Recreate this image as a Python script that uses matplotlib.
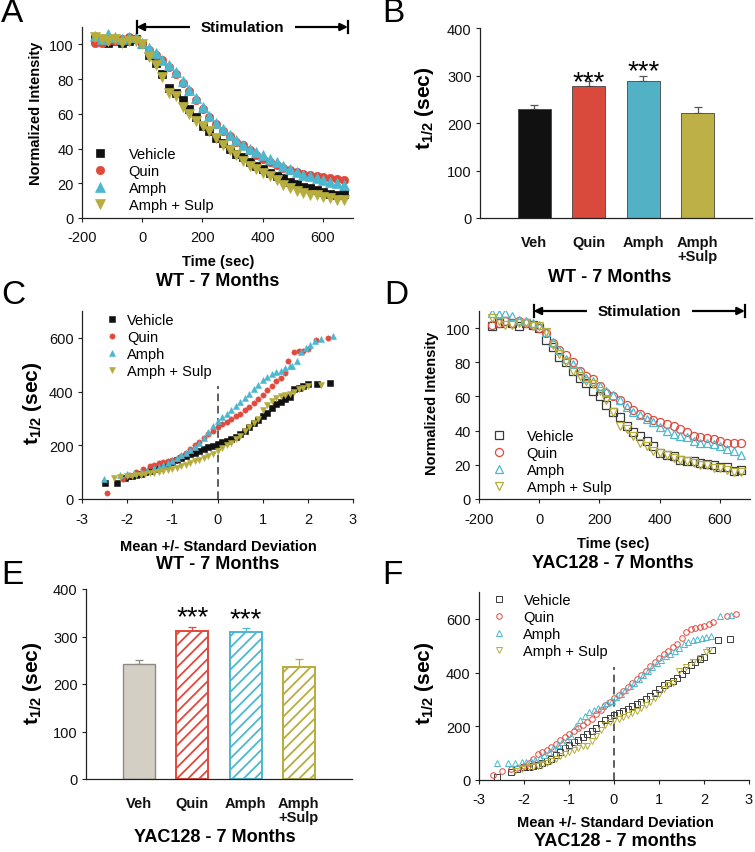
import matplotlib
matplotlib.use('Agg')
import matplotlib.pyplot as plt

plt.rcParams['font.family'] = ['Liberation Sans', 'DejaVu Sans']
plt.rcParams['mathtext.fontset'] = 'custom'
plt.rcParams['mathtext.rm'] = 'Liberation Sans'
plt.rcParams['mathtext.bf'] = 'Liberation Sans:bold'
plt.rcParams['mathtext.it'] = 'Liberation Sans:italic'
plt.rcParams['hatch.linewidth'] = 1.3
plt.rcParams['axes.unicode_minus'] = False

# ---------------- data ----------------
series_names = ['Vehicle', 'Quin', 'Amph', 'Amph + Sulp']
bar_labels = ['Veh', 'Quin', 'Amph', 'Amph\n+Sulp']

time_sec = [-156, -134, -112, -89, -67, -45, -22, 0, 22, 45, 67, 89, 112, 134, 156, 178,
            201, 223, 245, 268, 290, 312, 335, 357, 379, 401, 424, 446, 468, 491, 513,
            535, 557, 580, 602, 624, 647, 669]

wt_vehicle = [103, 102, 101, 102, 101, 102, 103, 100, 94, 89, 83, 75, 72, 68, 63, 58, 53, 50, 46, 43,
              40, 37, 35, 32, 30, 28, 26, 24, 23, 21, 19.5, 18, 17, 16, 15, 14, 13, 14]
wt_quin = [101, 101, 102, 102, 103, 104, 103, 100, 97, 94, 91, 87, 83, 78, 73, 68, 63, 58, 54, 50,
           47, 44, 42, 39, 36, 34, 32, 30.5, 29, 27.5, 26.5, 25.5, 25, 24, 23.5, 23, 22.5, 22]
wt_amph = [105, 103, 106, 104, 103, 104, 104, 101, 98, 95, 91, 88, 84, 79, 74, 69, 64, 59, 55, 51,
           48, 45, 42, 40, 38, 36, 34, 32, 30, 28, 26.5, 25, 24, 23, 22, 21, 20, 19]
wt_amph_sulp = [104, 103, 102, 103, 101, 102, 102, 100, 93, 88, 81, 72, 70, 64, 60, 56, 53, 50, 46, 42,
                39, 36, 33, 30, 28, 26, 24, 22, 19, 17, 15.5, 14.5, 13.5, 13, 12, 11.5, 10.5, 10.5]

yac_vehicle = [101, 103, 104, 103, 101, 103, 102, 100, 93, 89, 83, 80, 75, 71, 68, 63, 60, 55, 51, 48,
               43, 39, 37, 34, 31, 27, 26, 25, 23, 22.5, 22, 21, 20.5, 20, 19, 18.5, 16.5, 17]
yac_quin = [102, 103, 104, 103, 104, 103, 102, 100, 97, 91, 87, 84, 80, 75, 72, 70, 66, 62, 60, 58,
            55, 52, 50, 48, 46, 45, 44, 43, 41, 39, 37, 36, 35.5, 35, 34, 33, 33, 33]
yac_amph = [109, 108, 109, 107, 105, 104, 103, 102, 98, 92, 87, 82, 79, 75, 71, 69, 66, 63, 61, 58,
            54, 51, 49, 47, 45, 42, 40, 38, 37, 36, 34, 33, 33, 32, 31, 29, 28, 26]
yac_amph_sulp = [106, 104, 102, 102, 103, 103, 101, 101, 98, 90, 85, 80, 75, 72, 69, 67, 63, 58, 51, 43,
                 41, 37, 33, 31, 28, 27, 26, 24, 23, 22, 21, 20, 20, 18, 18, 17, 16, 16]

wt_t_half = [230, 277, 289, 222]
wt_t_half_err = [8, 11, 10, 12]
yac_t_half = [243, 312, 309, 236]
yac_t_half_err = [8, 9, 9, 16]
stars = ['', '***', '***', '']
wt_star_y = [0, 272, 295, 0]      # baseline of significance marks (sec)
yac_star_y = [0, 325, 322, 0]

# Q-Q style (z score vs t1/2) - WT
wt_qq_vehicle_z = [-2.48, -2.22, -2.05, -1.97, -1.9, -1.8, -1.7, -1.6, -1.5, -1.4, -1.3, -1.2, -1.1, -1.0,
                   -0.9, -0.8, -0.7, -0.6, -0.5, -0.4, -0.3, -0.2, -0.1, 0.0, 0.1, 0.2, 0.3, 0.4, 0.5,
                   0.6, 0.7, 0.8, 0.9, 1.0, 1.1, 1.2, 1.3, 1.4, 1.5, 1.6, 1.7, 1.8, 1.9, 2.0, 2.2, 2.48]
wt_qq_vehicle_t = [59, 59, 80, 84, 87, 90, 94, 99, 104, 110, 117, 124, 132, 139, 146, 153, 160, 166, 172,
                   178, 185, 192, 198, 206, 212, 217, 222, 230, 242, 255, 268, 282, 295, 308, 322, 338,
                   352, 362, 372, 380, 408, 414, 420, 428, 428, 432]
wt_qq_quin_z = [-2.45, -2.1, -1.95, -1.8, -1.65, -1.5, -1.4, -1.3, -1.2, -1.1, -1.0, -0.9, -0.8, -0.7,
                -0.6, -0.5, -0.4, -0.3, -0.2, -0.1, 0.0, 0.1, 0.2, 0.3, 0.4, 0.5, 0.6, 0.7, 0.8, 0.9,
                1.0, 1.1, 1.2, 1.3, 1.4, 1.5, 1.56, 1.7, 1.8, 1.9, 2.0, 2.17, 2.45]
wt_qq_quin_t = [22, 75, 88, 100, 112, 122, 128, 134, 138, 142, 146, 150, 160, 172, 186, 200, 214, 228,
                242, 255, 267, 278, 288, 298, 308, 318, 330, 342, 356, 372, 388, 405, 422, 438, 452,
                468, 513, 548, 550, 552, 558, 591, 601]
wt_qq_amph_z = [-2.52, -2.15, -2.0, -1.85, -1.7, -1.55, -1.4, -1.3, -1.2, -1.1, -1.0, -0.9, -0.8, -0.7,
                -0.6, -0.5, -0.4, -0.3, -0.2, -0.1, 0.0, 0.1, 0.2, 0.3, 0.4, 0.5, 0.6, 0.7, 0.8, 0.9,
                1.0, 1.1, 1.2, 1.3, 1.4, 1.5, 1.6, 1.65, 1.75, 1.85, 1.95, 2.05, 2.15, 2.3, 2.55]
wt_qq_amph_t = [75, 88, 92, 97, 102, 108, 114, 120, 126, 133, 142, 152, 162, 172, 182, 195, 210, 228,
                250, 272, 292, 305, 318, 330, 345, 360, 375, 392, 408, 425, 442, 455, 465, 472, 478,
                488, 495, 495, 512, 548, 562, 575, 588, 595, 608]
wt_qq_amph_sulp_z = [-2.3, -2.15, -2.0, -1.9, -1.8, -1.7, -1.6, -1.5, -1.4, -1.3, -1.2, -1.1, -1.0, -0.9,
                     -0.8, -0.7, -0.6, -0.5, -0.4, -0.3, -0.2, -0.1, 0.0, 0.1, 0.2, 0.3, 0.4, 0.5, 0.6,
                     0.7, 0.8, 0.9, 1.0, 1.1, 1.2, 1.3, 1.4, 1.5, 1.6, 1.7, 1.8, 1.9, 2.0, 2.3]
wt_qq_amph_sulp_t = [80, 82, 84, 86, 88, 90, 92, 95, 98, 101, 104, 108, 112, 117, 122, 128, 134, 140,
                     146, 153, 160, 168, 180, 190, 200, 210, 222, 236, 252, 268, 282, 298, 330, 350,
                     366, 376, 382, 388, 392, 400, 410, 415, 420, 425]

# Q-Q style - YAC128
yac_qq_vehicle_z = [-2.6, -2.3, -2.15, -2.0, -1.9, -1.8, -1.7, -1.6, -1.5, -1.4, -1.3, -1.2, -1.1, -1.0,
                    -0.9, -0.8, -0.7, -0.6, -0.5, -0.4, -0.3, -0.2, -0.1, 0.0, 0.1, 0.2, 0.3, 0.4, 0.5,
                    0.6, 0.7, 0.8, 0.9, 1.0, 1.1, 1.2, 1.3, 1.4, 1.5, 1.6, 1.7, 1.8, 1.9, 2.0, 2.17,
                    2.32, 2.58]
yac_qq_vehicle_t = [13, 30, 42, 48, 50, 53, 57, 62, 70, 80, 92, 105, 118, 130, 140, 150, 160, 170, 182,
                    195, 210, 222, 232, 243, 250, 258, 266, 274, 282, 290, 300, 312, 325, 340, 355, 362,
                    370, 380, 395, 410, 428, 440, 452, 458, 483, 520, 526]
yac_qq_quin_z = [-2.7, -2.5, -2.3, -2.15, -2.0, -1.9, -1.8, -1.7, -1.6, -1.5, -1.4, -1.3, -1.2, -1.1,
                 -1.0, -0.9, -0.8, -0.7, -0.6, -0.5, -0.4, -0.3, -0.2, -0.1, 0.0, 0.1, 0.2, 0.3, 0.4,
                 0.5, 0.6, 0.7, 0.8, 0.9, 1.0, 1.1, 1.2, 1.3, 1.4, 1.5, 1.6, 1.7, 1.8, 1.9, 2.0, 2.1,
                 2.2, 2.5, 2.7]
yac_qq_quin_t = [18, 35, 40, 45, 52, 62, 78, 95, 105, 112, 122, 135, 148, 160, 170, 182, 195, 205, 215,
                 228, 245, 262, 278, 290, 305, 318, 330, 345, 360, 375, 390, 405, 425, 440, 455, 468,
                 482, 495, 505, 530, 552, 562, 566, 570, 575, 582, 590, 612, 618]
yac_qq_amph_z = [-2.6, -2.35, -2.2, -2.05, -1.95, -1.85, -1.75, -1.65, -1.55, -1.45, -1.35, -1.25,
                 -1.15, -1.05, -0.95, -0.85, -0.75, -0.65, -0.55, -0.45, -0.35, -0.25, -0.15, -0.05,
                 0.05, 0.15, 0.25, 0.35, 0.45, 0.55, 0.65, 0.75, 0.85, 0.95, 1.05, 1.15, 1.25, 1.35,
                 1.45, 1.55, 1.65, 1.75, 1.85, 1.95, 2.05, 2.15, 2.35, 2.6]
yac_qq_amph_t = [62, 65, 65, 66, 67, 70, 75, 82, 92, 105, 118, 130, 140, 150, 162, 200, 225, 240, 252,
                 262, 268, 275, 285, 295, 310, 322, 335, 350, 362, 375, 390, 405, 420, 435, 448, 460,
                 470, 480, 492, 505, 515, 520, 525, 528, 532, 535, 610, 615]
yac_qq_amph_sulp_z = [-2.2, -2.05, -1.9, -1.8, -1.7, -1.6, -1.5, -1.4, -1.3, -1.2, -1.1, -1.0, -0.9,
                      -0.8, -0.7, -0.6, -0.5, -0.4, -0.3, -0.2, -0.1, 0.0, 0.1, 0.2, 0.3, 0.4, 0.5, 0.6,
                      0.7, 0.8, 0.9, 1.0, 1.1, 1.2, 1.3, 1.45, 1.6, 1.75, 1.9, 2.05, 2.12]
yac_qq_amph_sulp_t = [35, 42, 47, 50, 53, 57, 62, 70, 80, 88, 98, 105, 110, 118, 125, 128, 145, 165,
                      185, 205, 215, 222, 228, 235, 242, 250, 258, 268, 280, 292, 305, 320, 338, 352,
                      362, 405, 420, 440, 455, 478, 485]

# ---------------- style ----------------
C_BLACK = '#111111'
C_GRAY = '#3a3a3a'
C_RED = '#e0493c'
C_CYAN = '#4cb8cf'
C_OLIVE = '#b7ad3d'
BAR_WT = ['#111111', '#d94a3d', '#52b1c4', '#bcb046']
BAR_YAC_EDGE = ['#8d8a80', '#e0493c', '#4cb8cf', '#b7ad3d']
markers = ['s', 'o', '^', 'v']

W, H = 755, 853
fig = plt.figure(figsize=(7.55, 8.53), dpi=100)


def rect(l, t, r, b):
    return [l / W, 1 - b / H, (r - l) / W, (b - t) / H]


def fpos(x, y):
    return x / W, 1 - y / H


def style_axes(ax):
    for s in ['top', 'right']:
        ax.spines[s].set_visible(False)
    for s in ['left', 'bottom']:
        ax.spines[s].set_linewidth(0.9)
        ax.spines[s].set_color('#222222')
    ax.tick_params(direction='out', length=3, width=0.8, labelsize=10.5, pad=3, colors='#222222',
                   labelcolor='#111111')


def stim_arrow(ax):
    y = 110
    ax.annotate('', xy=(-19, y), xytext=(330, y),
                arrowprops=dict(arrowstyle='-|>', lw=1.6, color='k', mutation_scale=11,
                                shrinkA=0, shrinkB=0), annotation_clip=False)
    ax.annotate('', xy=(683, y), xytext=(330, y),
                arrowprops=dict(arrowstyle='-|>', lw=1.6, color='k', mutation_scale=11,
                                shrinkA=0, shrinkB=0), annotation_clip=False)
    for xv in (-19, 683):
        ax.plot([xv, xv], [y - 3.5, y + 3.5], color='k', lw=1.6, clip_on=False)
    ax.text(333, y, 'Stimulation', ha='center', va='center', fontsize=11, fontweight='bold',
            bbox=dict(facecolor='white', edgecolor='none', pad=8), zorder=5)


def time_panel(rc, data, filled, legend_anchor, hpad):
    ax = fig.add_axes(rect(*rc))
    style_axes(ax)
    cols = [C_BLACK if filled else C_GRAY, C_RED, C_CYAN, C_OLIVE]
    sizes = [5.6, 6.0, 6.5, 6.5] if filled else [5.4, 5.8, 6.2, 6.2]
    for vals, c, m, name, ms in zip(data, cols, markers, series_names, sizes):
        if filled:
            ax.plot(time_sec, vals, ls='none', marker=m, ms=ms, mfc=c, mec=c, mew=0.5, label=name)
        else:
            ax.plot(time_sec, vals, ls='none', marker=m, ms=ms, mfc='none', mec=c, mew=0.9, label=name)
    ax.set_xlim(-200, 700)
    ax.set_ylim(0, 110)
    ax.set_xticks([-200, 0, 200, 400, 600])
    ax.set_yticks([0, 20, 40, 60, 80, 100])
    ax.tick_params(axis='x', pad=6)
    stim_arrow(ax)
    ax.legend(loc='upper left', bbox_to_anchor=legend_anchor, frameon=False, fontsize=10.5,
              borderpad=0, borderaxespad=0, handlelength=1.0, handletextpad=hpad,
              labelspacing=0.2, numpoints=1)
    return ax


def qq_panel(rc, zs, ts, filled, legend_anchor, hpad):
    ax = fig.add_axes(rect(*rc))
    style_axes(ax)
    cols = [C_BLACK if filled else C_GRAY, C_RED, C_CYAN, C_OLIVE]
    for z, t, c, m, name in zip(zs, ts, cols, markers, series_names):
        if filled:
            ax.plot(z, t, ls='none', marker=m, ms=3.8, mfc=c, mec=c, mew=0.4, label=name)
        else:
            ax.plot(z, t, ls='none', marker=m, ms=4.0, mfc='none', mec=c, mew=0.7, label=name)
    ax.plot([0, 0], [0, 420], color='#333333', lw=1.1, dashes=(5, 3), zorder=0)
    ax.set_xlim(-3, 3)
    ax.set_ylim(0, 700)
    ax.set_xticks([-3, -2, -1, 0, 1, 2, 3])
    ax.set_yticks([0, 200, 400, 600])
    ax.tick_params(axis='x', pad=6)
    ax.legend(loc='upper left', bbox_to_anchor=legend_anchor, frameon=False, fontsize=10.5,
              borderpad=0, borderaxespad=0, handlelength=1.0, handletextpad=hpad,
              labelspacing=0.2, numpoints=1)
    return ax


def bar_panel(rc, vals, errs, hatched, star_y):
    ax = fig.add_axes(rect(*rc))
    style_axes(ax)
    pos = [1, 2, 3, 4]
    for i, (p, v, e) in enumerate(zip(pos, vals, errs)):
        if not hatched:
            ax.bar(p, v, width=0.6, color=BAR_WT[i], edgecolor='#444444', linewidth=0.6, zorder=2)
            ec = '#555555'
        else:
            if i == 0:
                ax.bar(p, v, width=0.6, color='#d3cfc4', edgecolor=BAR_YAC_EDGE[i], linewidth=1.0,
                       zorder=2)
            else:
                ax.bar(p, v, width=0.6, color='white', edgecolor=BAR_YAC_EDGE[i], linewidth=1.4,
                       hatch='///', zorder=2)
            ec = BAR_YAC_EDGE[i]
        ax.errorbar(p, v, yerr=[[0], [e]], fmt='none', ecolor=ec, elinewidth=0.9, capsize=3,
                    capthick=0.9, zorder=1)
    for p, s, sy in zip(pos, stars, star_y):
        if s:
            ax.text(p, sy, s, ha='center', va='baseline', fontsize=20)
    ax.set_xlim(0, 5)
    ax.set_ylim(0, 400)
    ax.set_yticks([0, 100, 200, 300, 400])
    ax.set_xticks(pos)
    ax.set_xticklabels(bar_labels, fontweight='bold', fontsize=10.5, multialignment='center',
                       linespacing=1.05)
    ax.tick_params(axis='x', length=0, pad=12)
    return ax


# ---------------- panels ----------------
axA = time_panel((82, 28, 353, 219), [wt_vehicle, wt_quin, wt_amph, wt_amph_sulp], True,
                 (0.04, 0.37), 1.45)
axB = bar_panel((480, 29, 752, 219), wt_t_half, wt_t_half_err, False, wt_star_y)
axC = qq_panel((82, 312, 353, 500), [wt_qq_vehicle_z, wt_qq_quin_z, wt_qq_amph_z, wt_qq_amph_sulp_z],
               [wt_qq_vehicle_t, wt_qq_quin_t, wt_qq_amph_t, wt_qq_amph_sulp_t], True,
               (0.085, 0.99), 0.5)
axD = time_panel((479, 312, 750, 500), [yac_vehicle, yac_quin, yac_amph, yac_amph_sulp], False,
                 (0.048, 0.37), 1.37)
axE = bar_panel((86, 590, 352, 780), yac_t_half, yac_t_half_err, True, yac_star_y)
axF = qq_panel((479, 593, 749, 781),
               [yac_qq_vehicle_z, yac_qq_quin_z, yac_qq_amph_z, yac_qq_amph_sulp_z],
               [yac_qq_vehicle_t, yac_qq_quin_t, yac_qq_amph_t, yac_qq_amph_sulp_t], False,
               (0.048, 0.995), 1.16)

# ---------------- labels ----------------
t_label = r'$\mathbf{t}_{\mathbf{1/2}}$ (sec)'


def ftext(x, y, s, **kw):
    fig.text(*fpos(x, y), s, **kw)


# y labels
ftext(36, 113, 'Normalized Intensity', rotation=90, ha='center', va='center', fontsize=10.5,
      fontweight='bold')
ftext(432, 403, 'Normalized Intensity', rotation=90, ha='center', va='center', fontsize=10.5,
      fontweight='bold')
ftext(425, 108, t_label, rotation=90, ha='center', va='center', fontsize=15, fontweight='bold')
ftext(33, 403, t_label, rotation=90, ha='center', va='center', fontsize=15, fontweight='bold')
ftext(33, 683, t_label, rotation=90, ha='center', va='center', fontsize=15, fontweight='bold')
ftext(425, 683, t_label, rotation=90, ha='center', va='center', fontsize=15, fontweight='bold')

# x labels / titles
ftext(218, 262, 'Time (sec)', ha='center', va='center', fontsize=10.5, fontweight='bold')
ftext(218, 282, 'WT - 7 Months', ha='center', va='center', fontsize=13, fontweight='bold')
ftext(610, 277, 'WT - 7 Months', ha='center', va='center', fontsize=13, fontweight='bold')
ftext(218, 547, 'Mean +/- Standard Deviation', ha='center', va='center', fontsize=10.5,
      fontweight='bold')
ftext(218, 565, 'WT - 7 Months', ha='center', va='center', fontsize=13, fontweight='bold')
ftext(613, 544, 'Time (sec)', ha='center', va='center', fontsize=10.5, fontweight='bold')
ftext(613, 563, 'YAC128 - 7 Months', ha='center', va='center', fontsize=13, fontweight='bold')
ftext(215, 838, 'YAC128 - 7 Months', ha='center', va='center', fontsize=13, fontweight='bold')
ftext(615, 823, 'Mean +/- Standard Deviation', ha='center', va='center', fontsize=10.5,
      fontweight='bold')
ftext(615, 842, 'YAC128 - 7 months', ha='center', va='center', fontsize=13, fontweight='bold')

# panel letters
for letter, x, y in [('A', 1, 14), ('B', 382, 14), ('C', 1, 295), ('D', 384, 295),
                     ('E', 1, 576), ('F', 382, 576)]:
    ftext(x, y, letter, ha='left', va='center', fontsize=24)

fig.savefig('out.png', dpi=100)
